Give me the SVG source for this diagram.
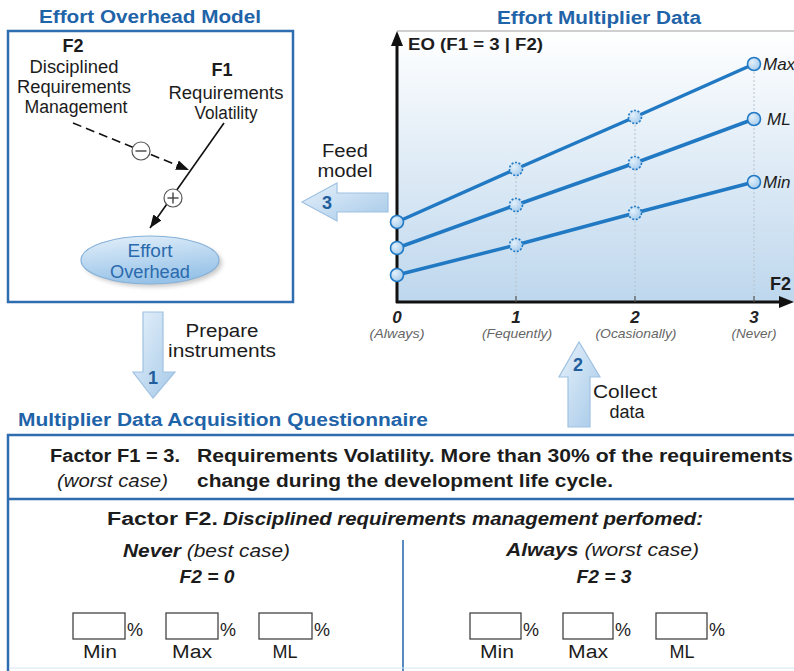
<svg xmlns="http://www.w3.org/2000/svg" width="794" height="671" viewBox="0 0 794 671">
  <style>
    .title { font-family: "Liberation Sans", Arial, sans-serif; font-weight: bold; font-size: 18px; fill: #1f63a8; }
    .lbl { font-family: "Liberation Sans", Arial, sans-serif; font-size: 18px; fill: #1c1c1c; }
    .b { font-weight: bold; }
    .i { font-style: italic; }
    .frame { fill: none; stroke: #2d6db0; stroke-width: 2.5; }
    .series { fill: none; stroke: #2179c3; stroke-width: 3.5; stroke-linejoin: round; }
    .pt { fill: url(#ptFill); stroke: #2179c3; stroke-width: 1.6; }
    .pt-dash { fill: url(#ptFill); stroke: #2179c3; stroke-width: 1.6; stroke-dasharray: 2 1.6; }
    .grid { stroke: #b8c2cc; stroke-width: 1; stroke-dasharray: 2 2; }
    .axis { stroke: #111; stroke-width: 3; fill: none; }
    .tick { font-family: "Liberation Sans", Arial, sans-serif; font-size: 17px; font-weight: bold; font-style: italic; fill: #222; text-anchor: middle; }
    .sub { font-family: "Liberation Sans", Arial, sans-serif; font-size: 13px; font-style: italic; fill: #666; text-anchor: middle; }
    .step { fill: url(#stepFill); stroke: #9fc2e2; stroke-width: 1.2; }
    .num { font-family: "Liberation Sans", Arial, sans-serif; font-size: 18px; font-weight: bold; fill: #1f5d9c; text-anchor: middle; }
    .q { font-family: "Liberation Sans", Arial, sans-serif; font-size: 18px; fill: #1c1c1c; }
    .field { fill: #fff; stroke: #444; stroke-width: 1.3; }
    .sign { fill: #fff; stroke: #555; stroke-width: 1.2; }
    .oval-text { font-family: "Liberation Sans", Arial, sans-serif; font-size: 18px; fill: #2a6aad; text-anchor: middle; }
  </style>
  <defs>
    <linearGradient id="chartBg" x1="0" y1="0" x2="0" y2="1">
      <stop offset="0" stop-color="#ffffff"/>
      <stop offset="1" stop-color="#bed7ed"/>
    </linearGradient>
    <radialGradient id="ptFill" cx="0.35" cy="0.35" r="0.8">
      <stop offset="0" stop-color="#e3f0fb"/>
      <stop offset="1" stop-color="#9cc6ea"/>
    </radialGradient>
    <linearGradient id="stepFill" x1="0" y1="0" x2="1" y2="1">
      <stop offset="0" stop-color="#e6f1fb"/>
      <stop offset="1" stop-color="#a6c9e8"/>
    </linearGradient>
    <linearGradient id="ovalFill" x1="0" y1="0" x2="0.3" y2="1">
      <stop offset="0" stop-color="#e4f0fa"/>
      <stop offset="1" stop-color="#98c3e8"/>
    </linearGradient>
    <filter id="soft" x="-20%" y="-20%" width="140%" height="140%">
      <feGaussianBlur stdDeviation="2"/>
    </filter>
    <marker id="head" markerUnits="userSpaceOnUse" markerWidth="13" markerHeight="10" refX="13" refY="5" orient="auto">
      <path d="M0,0 L13,5 L0,10 z" fill="#111"/>
    </marker>
  </defs>

  <rect width="794" height="671" fill="#ffffff"/>

  <!-- Effort overhead model panel -->
  <g id="model-panel">
    <text class="title" x="150" y="23" text-anchor="middle" textLength="222" lengthAdjust="spacingAndGlyphs">Effort Overhead Model</text>
    <rect class="frame" x="8" y="31" width="285" height="271"/>
  </g>

  <g id="node-f2">
    <text class="lbl b" x="73" y="52" text-anchor="middle">F2</text>
    <text class="lbl" x="74" y="73" text-anchor="middle" textLength="89" lengthAdjust="spacingAndGlyphs">Disciplined</text>
    <text class="lbl" x="74" y="93" text-anchor="middle" textLength="114" lengthAdjust="spacingAndGlyphs">Requirements</text>
    <text class="lbl" x="76" y="113" text-anchor="middle" textLength="103" lengthAdjust="spacingAndGlyphs">Management</text>
  </g>

  <g id="node-f1">
    <text class="lbl b" x="222" y="76" text-anchor="middle">F1</text>
    <text class="lbl" x="226" y="99" text-anchor="middle" textLength="115" lengthAdjust="spacingAndGlyphs">Requirements</text>
    <text class="lbl" x="226" y="119" text-anchor="middle" textLength="63" lengthAdjust="spacingAndGlyphs">Volatility</text>
  </g>

  <g id="node-effort">
    <ellipse cx="153" cy="263" rx="69" ry="24" fill="#8a8a8a" opacity="0.45" filter="url(#soft)"/>
    <ellipse cx="150" cy="260" rx="69" ry="24" fill="url(#ovalFill)" stroke="#86b1d9" stroke-width="1.2"/>
    <text class="oval-text" x="150" y="257" textLength="45" lengthAdjust="spacingAndGlyphs">Effort</text>
    <text class="oval-text" x="150" y="278" textLength="80" lengthAdjust="spacingAndGlyphs">Overhead</text>
  </g>

  <g id="connectors">
    <path d="M73,123 L189,170" fill="none" stroke="#111" stroke-width="1.6" stroke-dasharray="9 5" marker-end="url(#head)"/>
    <path d="M224,123 L150,228" fill="none" stroke="#111" stroke-width="1.6" marker-end="url(#head)"/>
    <!-- negative influence -->
    <circle class="sign" cx="141" cy="151" r="9"/>
    <line x1="135.5" y1="151" x2="146.5" y2="151" stroke="#444" stroke-width="1.4"/>
    <!-- positive influence -->
    <circle class="sign" cx="173" cy="198" r="9"/>
    <line x1="167.5" y1="198" x2="178.5" y2="198" stroke="#444" stroke-width="1.4"/>
    <line x1="173" y1="192.5" x2="173" y2="203.5" stroke="#444" stroke-width="1.4"/>
  </g>

  <!-- Effort multiplier chart -->
  <g id="chart">
    <text class="title" x="599" y="24" text-anchor="middle" textLength="204" lengthAdjust="spacingAndGlyphs">Effort Multiplier Data</text>
    <rect x="397" y="31" width="397" height="271" fill="url(#chartBg)"/>
    <line x1="397" y1="31" x2="794" y2="31" stroke="#cfcfcf" stroke-width="2"/>

    <line class="grid" x1="516" y1="169" x2="516" y2="302"/>
    <line class="grid" x1="635" y1="117" x2="635" y2="302"/>
    <line class="grid" x1="754" y1="64" x2="754" y2="302"/>

    <line class="axis" x1="397" y1="44" x2="397" y2="303"/>
    <path d="M397,31 L403,46 L391,46 z" fill="#111"/>
    <line class="axis" x1="396" y1="302" x2="781" y2="302"/>
    <path d="M794,302 L779,296 L779,308 z" fill="#111"/>
    <line x1="516" y1="296" x2="516" y2="302" stroke="#555" stroke-width="1.2"/>
    <line x1="635" y1="296" x2="635" y2="302" stroke="#555" stroke-width="1.2"/>
    <line x1="754" y1="296" x2="754" y2="302" stroke="#555" stroke-width="1.2"/>

    <text class="lbl b" x="408" y="50" style="font-size:16px" textLength="135" lengthAdjust="spacingAndGlyphs">EO (F1 = 3 | F2)</text>
    <text class="lbl b" x="770" y="290">F2</text>

    <polyline class="series" points="397,222 516,169 635,117 754,64"/>
    <polyline class="series" points="397,248 516,205 635,163 754,119"/>
    <polyline class="series" points="397,275 516,245 635,213 754,182"/>

    <circle class="pt" cx="397" cy="222" r="6.5"/>
    <circle class="pt-dash" cx="516" cy="169" r="6.5"/>
    <circle class="pt-dash" cx="635" cy="117" r="6.5"/>
    <circle class="pt" cx="754" cy="64" r="6.5"/>
    <circle class="pt" cx="397" cy="248" r="6.5"/>
    <circle class="pt-dash" cx="516" cy="205" r="6.5"/>
    <circle class="pt-dash" cx="635" cy="163" r="6.5"/>
    <circle class="pt" cx="754" cy="119" r="6.5"/>
    <circle class="pt" cx="397" cy="275" r="6.5"/>
    <circle class="pt-dash" cx="516" cy="245" r="6.5"/>
    <circle class="pt-dash" cx="635" cy="213" r="6.5"/>
    <circle class="pt" cx="754" cy="182" r="6.5"/>

    <text class="lbl i" x="763" y="70" style="font-size:17px">Max</text>
    <text class="lbl i" x="767" y="125" style="font-size:17px">ML</text>
    <text class="lbl i" x="763" y="188" style="font-size:17px">Min</text>

    <text class="tick" x="397" y="323">0</text>
    <text class="tick" x="516" y="323">1</text>
    <text class="tick" x="635" y="323">2</text>
    <text class="tick" x="754" y="323">3</text>
    <text class="sub" x="397" y="338" textLength="55" lengthAdjust="spacingAndGlyphs">(Always)</text>
    <text class="sub" x="517" y="338" textLength="70" lengthAdjust="spacingAndGlyphs">(Fequently)</text>
    <text class="sub" x="636" y="338" textLength="81" lengthAdjust="spacingAndGlyphs">(Ocasionally)</text>
    <text class="sub" x="754" y="338" textLength="45" lengthAdjust="spacingAndGlyphs">(Never)</text>
  </g>

  <!-- Process steps -->
  <g id="step-1">
    <path class="step" d="M143,312 L163,312 L163,372 L175,372 L153,398 L133,372 L143,372 z"/>
    <text class="num" x="153" y="384">1</text>
    <text class="lbl" x="222" y="337" text-anchor="middle" textLength="73" lengthAdjust="spacingAndGlyphs">Prepare</text>
    <text class="lbl" x="222" y="357" text-anchor="middle" textLength="108" lengthAdjust="spacingAndGlyphs">instruments</text>
  </g>

  <g id="step-2">
    <path class="step" d="M568,427 L590,427 L590,377 L600,377 L579,342 L559,377 L568,377 z"/>
    <text class="num" x="578" y="371">2</text>
    <text class="lbl" x="625" y="398" text-anchor="middle" textLength="64" lengthAdjust="spacingAndGlyphs">Collect</text>
    <text class="lbl" x="627" y="418" text-anchor="middle">data</text>
  </g>

  <g id="step-3">
    <path class="step" d="M388,193 L388,212 L337,212 L337,221 L302,202 L337,183 L337,193 z"/>
    <text class="num" x="327" y="209">3</text>
    <text class="lbl" x="345" y="157" text-anchor="middle" textLength="46" lengthAdjust="spacingAndGlyphs">Feed</text>
    <text class="lbl" x="345" y="177" text-anchor="middle" textLength="55" lengthAdjust="spacingAndGlyphs">model</text>
  </g>

  <!-- Questionnaire -->
  <g id="questionnaire">
    <text class="title" x="18" y="426" textLength="410" lengthAdjust="spacingAndGlyphs">Multiplier Data Acquisition Questionnaire</text>
    <path class="frame" d="M796,435 L8,435 L8,673"/>
    <line x1="8" y1="499" x2="796" y2="499" stroke="#2d6db0" stroke-width="2.5"/>
    <line x1="403" y1="540" x2="403" y2="671" stroke="#2d6db0" stroke-width="1.6"/>
    <line x1="9" y1="668" x2="794" y2="668" stroke="#d6e6f4" stroke-width="1"/>

    <text class="q b" x="50" y="462" textLength="130" lengthAdjust="spacingAndGlyphs">Factor F1 = 3.</text>
    <text class="q b" x="197" y="462" textLength="596" lengthAdjust="spacingAndGlyphs">Requirements Volatility. More than 30% of the requirements</text>
    <text class="q i" x="57" y="487" textLength="111" lengthAdjust="spacingAndGlyphs">(worst case)</text>
    <text class="q b" x="197" y="487" textLength="416" lengthAdjust="spacingAndGlyphs">change during the development life cycle.</text>

    <text class="q b" x="107" y="525" textLength="111" lengthAdjust="spacingAndGlyphs">Factor F2.</text>
    <text class="q b i" x="223" y="525" textLength="480" lengthAdjust="spacingAndGlyphs">Disciplined requirements management perfomed:</text>

    <text class="q" x="123" y="557" textLength="167" lengthAdjust="spacingAndGlyphs"><tspan class="b i">Never</tspan><tspan class="i"> (best case)</tspan></text>
    <text class="q b i" x="207" y="583" text-anchor="middle" textLength="55" lengthAdjust="spacingAndGlyphs">F2 = 0</text>
    <text class="q" x="506" y="556" textLength="193" lengthAdjust="spacingAndGlyphs"><tspan class="b i">Always</tspan><tspan class="i"> (worst case)</tspan></text>
    <text class="q b i" x="604" y="583" text-anchor="middle" textLength="55" lengthAdjust="spacingAndGlyphs">F2 = 3</text>

    <g id="fields-best">
      <rect class="field" x="73" y="613" width="52" height="26"/>
      <rect class="field" x="166" y="613" width="52" height="26"/>
      <rect class="field" x="259" y="613" width="53" height="26"/>
      <text class="q" x="127" y="636">%</text>
      <text class="q" x="220" y="636">%</text>
      <text class="q" x="314" y="636">%</text>
      <text class="q" x="100" y="658" text-anchor="middle" textLength="34" lengthAdjust="spacingAndGlyphs">Min</text>
      <text class="q" x="192" y="658" text-anchor="middle" textLength="40" lengthAdjust="spacingAndGlyphs">Max</text>
      <text class="q" x="285" y="658" text-anchor="middle" textLength="25" lengthAdjust="spacingAndGlyphs">ML</text>
    </g>
    <g id="fields-worst">
      <rect class="field" x="470" y="613" width="51" height="26"/>
      <rect class="field" x="563" y="613" width="50" height="26"/>
      <rect class="field" x="656" y="613" width="51" height="26"/>
      <text class="q" x="523" y="636">%</text>
      <text class="q" x="615" y="636">%</text>
      <text class="q" x="709" y="636">%</text>
      <text class="q" x="497" y="658" text-anchor="middle" textLength="34" lengthAdjust="spacingAndGlyphs">Min</text>
      <text class="q" x="588" y="658" text-anchor="middle" textLength="40" lengthAdjust="spacingAndGlyphs">Max</text>
      <text class="q" x="682" y="658" text-anchor="middle" textLength="25" lengthAdjust="spacingAndGlyphs">ML</text>
    </g>
  </g>
</svg>
